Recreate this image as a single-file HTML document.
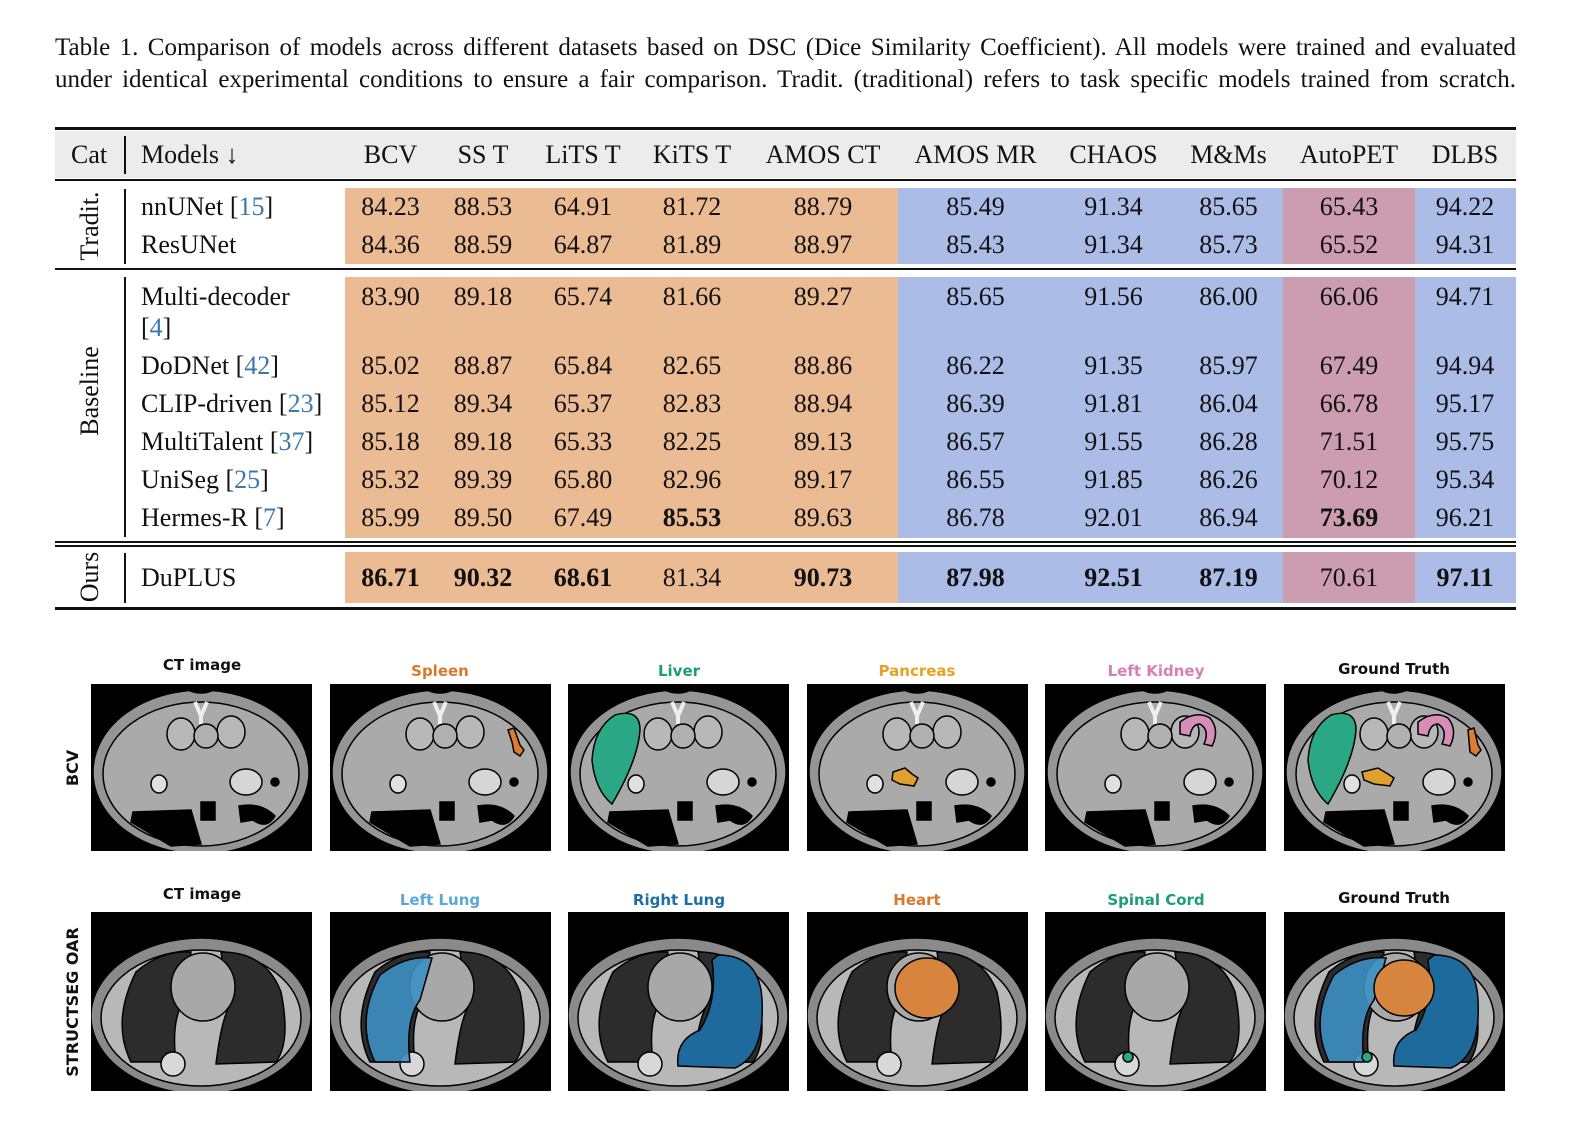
<!DOCTYPE html>
<html><head><meta charset="utf-8"><style>
body{margin:0;width:1594px;height:1148px;background:#fff;position:relative;overflow:hidden;font-family:"Liberation Serif",serif;color:#111}
.a{position:absolute}
.cap{left:55px;width:1461px;font-size:25px;line-height:32px;text-align:justify;text-align-last:justify;white-space:nowrap}
.rule{position:absolute;left:55px;width:1461px;background:#111}
.band{position:absolute}
.row{position:absolute;left:0;height:38px;line-height:38px;font-size:26px;white-space:nowrap}
.row span{position:absolute;text-align:center;top:0}
.m{left:141px;text-align:left!important}
.c1{left:345px;width:91px}.c2{left:436px;width:94px}.c3{left:530px;width:106px}.c4{left:636px;width:112px}.c5{left:748px;width:150px}.c6{left:898px;width:155px}.c7{left:1053px;width:121px}.c8{left:1174px;width:109px}.c9{left:1283px;width:132px}.c10{left:1415px;width:100px}
.ref{color:#3a78b0}
b{font-weight:bold}
.vl{position:absolute;width:1.5px;background:#111;left:124px}
.vt{position:absolute;font-size:26px;transform:rotate(-90deg);transform-origin:center;white-space:nowrap;text-align:center;width:200px}
</style></head><body>
<div class="a cap" style="top:32px">Table 1. Comparison of models across different datasets based on DSC (Dice Similarity Coefficient). All models were trained and evaluated</div>
<div class="a cap" style="top:64px">under identical experimental conditions to ensure a fair comparison. Tradit. (traditional) refers to task specific models trained from scratch.</div>

<div class="band" style="left:55px;top:131px;width:1461px;height:47px;background:#ececec"></div>
<div class="rule" style="top:127px;height:2.5px"></div>
<div class="rule" style="top:179px;height:1.5px"></div>
<div class="rule" style="top:268px;height:1.5px"></div>
<div class="rule" style="top:541px;height:1.5px"></div>
<div class="rule" style="top:545px;height:1.5px"></div>
<div class="rule" style="top:607px;height:2.5px"></div>

<div class="band" style="left:345px;top:188px;width:553px;height:76px;background:#ebbb93"></div>
<div class="band" style="left:898px;top:188px;width:385px;height:76px;background:#abbde6"></div>
<div class="band" style="left:1283px;top:188px;width:132px;height:76px;background:#cc9db1"></div>
<div class="band" style="left:1415px;top:188px;width:101px;height:76px;background:#abbde6"></div>
<div class="band" style="left:345px;top:277px;width:553px;height:261px;background:#ebbb93"></div>
<div class="band" style="left:898px;top:277px;width:385px;height:261px;background:#abbde6"></div>
<div class="band" style="left:1283px;top:277px;width:132px;height:261px;background:#cc9db1"></div>
<div class="band" style="left:1415px;top:277px;width:101px;height:261px;background:#abbde6"></div>
<div class="band" style="left:345px;top:552px;width:553px;height:51px;background:#ebbb93"></div>
<div class="band" style="left:898px;top:552px;width:385px;height:51px;background:#abbde6"></div>
<div class="band" style="left:1283px;top:552px;width:132px;height:51px;background:#cc9db1"></div>
<div class="band" style="left:1415px;top:552px;width:101px;height:51px;background:#abbde6"></div>

<div class="vl" style="top:136px;height:38px"></div>
<div class="vl" style="top:189px;height:75px"></div>
<div class="vl" style="top:277px;height:260px"></div>
<div class="vl" style="top:553px;height:50px"></div>
<div class="vt" style="left:-10px;top:211px">Tradit.</div>
<div class="vt" style="left:-10px;top:376px">Baseline</div>
<div class="vt" style="left:-10px;top:562px">Ours</div>

<div class="row" style="top:136px"><span style="left:71px">Cat</span><span class="m">Models ↓</span><span class="c1">BCV</span><span class="c2">SS T</span><span class="c3">LiTS T</span><span class="c4">KiTS T</span><span class="c5">AMOS CT</span><span class="c6">AMOS MR</span><span class="c7">CHAOS</span><span class="c8">M&amp;Ms</span><span class="c9">AutoPET</span><span class="c10">DLBS</span></div>
<div class="row" style="top:188px"><span class="m">nnUNet [<span class="ref" style="position:static">15</span>]</span><span class="c1">84.23</span><span class="c2">88.53</span><span class="c3">64.91</span><span class="c4">81.72</span><span class="c5">88.79</span><span class="c6">85.49</span><span class="c7">91.34</span><span class="c8">85.65</span><span class="c9">65.43</span><span class="c10">94.22</span></div>
<div class="row" style="top:226px"><span class="m">ResUNet</span><span class="c1">84.36</span><span class="c2">88.59</span><span class="c3">64.87</span><span class="c4">81.89</span><span class="c5">88.97</span><span class="c6">85.43</span><span class="c7">91.34</span><span class="c8">85.73</span><span class="c9">65.52</span><span class="c10">94.31</span></div>
<div class="row" style="top:278px"><span class="m">Multi-decoder</span><span class="c1">83.90</span><span class="c2">89.18</span><span class="c3">65.74</span><span class="c4">81.66</span><span class="c5">89.27</span><span class="c6">85.65</span><span class="c7">91.56</span><span class="c8">86.00</span><span class="c9">66.06</span><span class="c10">94.71</span></div>
<div class="row" style="top:309px"><span class="m">[<span class="ref" style="position:static">4</span>]</span></div>
<div class="row" style="top:347px"><span class="m">DoDNet [<span class="ref" style="position:static">42</span>]</span><span class="c1">85.02</span><span class="c2">88.87</span><span class="c3">65.84</span><span class="c4">82.65</span><span class="c5">88.86</span><span class="c6">86.22</span><span class="c7">91.35</span><span class="c8">85.97</span><span class="c9">67.49</span><span class="c10">94.94</span></div>
<div class="row" style="top:385px"><span class="m">CLIP-driven [<span class="ref" style="position:static">23</span>]</span><span class="c1">85.12</span><span class="c2">89.34</span><span class="c3">65.37</span><span class="c4">82.83</span><span class="c5">88.94</span><span class="c6">86.39</span><span class="c7">91.81</span><span class="c8">86.04</span><span class="c9">66.78</span><span class="c10">95.17</span></div>
<div class="row" style="top:423px"><span class="m">MultiTalent [<span class="ref" style="position:static">37</span>]</span><span class="c1">85.18</span><span class="c2">89.18</span><span class="c3">65.33</span><span class="c4">82.25</span><span class="c5">89.13</span><span class="c6">86.57</span><span class="c7">91.55</span><span class="c8">86.28</span><span class="c9">71.51</span><span class="c10">95.75</span></div>
<div class="row" style="top:461px"><span class="m">UniSeg [<span class="ref" style="position:static">25</span>]</span><span class="c1">85.32</span><span class="c2">89.39</span><span class="c3">65.80</span><span class="c4">82.96</span><span class="c5">89.17</span><span class="c6">86.55</span><span class="c7">91.85</span><span class="c8">86.26</span><span class="c9">70.12</span><span class="c10">95.34</span></div>
<div class="row" style="top:499px"><span class="m">Hermes-R [<span class="ref" style="position:static">7</span>]</span><span class="c1">85.99</span><span class="c2">89.50</span><span class="c3">67.49</span><span class="c4"><b>85.53</b></span><span class="c5">89.63</span><span class="c6">86.78</span><span class="c7">92.01</span><span class="c8">86.94</span><span class="c9"><b>73.69</b></span><span class="c10">96.21</span></div>
<div class="row" style="top:559px"><span class="m">DuPLUS</span><span class="c1"><b>86.71</b></span><span class="c2"><b>90.32</b></span><span class="c3"><b>68.61</b></span><span class="c4">81.34</span><span class="c5"><b>90.73</b></span><span class="c6"><b>87.98</b></span><span class="c7"><b>92.51</b></span><span class="c8"><b>87.19</b></span><span class="c9">70.61</span><span class="c10"><b>97.11</b></span></div>

<svg class="a" style="left:0;top:0" width="1594" height="1148" viewBox="0 0 1594 1148" font-family="DejaVu Sans, sans-serif" font-weight="bold">
<defs>
<symbol id="abd" viewBox="0 0 221 167" width="221" height="167">
<rect width="221" height="167" fill="#000"/>
<ellipse cx="110" cy="88" rx="108" ry="82" fill="#959595"/>
<ellipse cx="110" cy="90" rx="98" ry="72" fill="#aaaaaa"/>
<path d="M88 0 Q110 18 132 0Z" fill="#000"/>
<path d="M104 18 L110 32 L116 18 M110 32 L110 40" stroke="#eee" stroke-width="4" fill="none"/>
<ellipse cx="90" cy="50" rx="14" ry="16" fill="#b8b8b8"/>
<ellipse cx="140" cy="48" rx="14" ry="16" fill="#b8b8b8"/>
<ellipse cx="115" cy="52" rx="12" ry="12" fill="#b0b0b0"/>
<ellipse cx="155" cy="98" rx="16" ry="13" fill="#d6d6d6"/>
<ellipse cx="68" cy="100" rx="8" ry="9" fill="#e0e0e0"/>
<circle cx="184" cy="98" r="4" fill="#000"/>
<path d="M42 128 L100 126 L110 160 L80 162 L40 138Z" fill="#000"/>
<rect x="110" y="118" width="14" height="18" fill="#000"/>
<path d="M148 122 Q170 118 184 132 Q176 146 162 136 L150 138Z" fill="#000"/>
</symbol>
<symbol id="tho" viewBox="0 0 221 179" width="221" height="179">
<rect width="221" height="179" fill="#000"/>
<ellipse cx="110" cy="104" rx="110" ry="78" fill="#8a8a8a"/>
<ellipse cx="110" cy="106" rx="100" ry="68" fill="#b8b8b8"/>
<path d="M40 150 Q20 110 45 60 Q70 38 100 40 L92 90 Q80 110 85 150Z" fill="#2c2c2c"/>
<path d="M130 40 Q175 40 190 80 Q200 130 185 150 L125 152 Q130 110 138 95Z" fill="#2c2c2c"/>
<ellipse cx="112" cy="75" rx="32" ry="34" fill="#a8a8a8"/>
<ellipse cx="82" cy="152" rx="12" ry="12" fill="#d8d8d8"/>
</symbol>
</defs>
<g font-size="15" text-anchor="middle">
<text x="202" y="670" fill="#111">CT image</text>
<text x="440" y="676" fill="#d9782a">Spleen</text>
<text x="679" y="676" fill="#1a9e77">Liver</text>
<text x="917" y="676" fill="#e5a224">Pancreas</text>
<text x="1156" y="676" fill="#d67fb4">Left Kidney</text>
<text x="1394" y="674" fill="#111">Ground Truth</text>
<text x="202" y="899" fill="#111">CT image</text>
<text x="440" y="905" fill="#56a9d8">Left Lung</text>
<text x="679" y="905" fill="#1f6ea3">Right Lung</text>
<text x="917" y="905" fill="#d9772a">Heart</text>
<text x="1156" y="905" fill="#1a9e77">Spinal Cord</text>
<text x="1394" y="903" fill="#111">Ground Truth</text>
<text transform="translate(78,768) rotate(-90)" font-size="16" fill="#111">BCV</text>
<text transform="translate(78,1002) rotate(-90)" font-size="16" fill="#111">STRUCTSEG OAR</text>
</g>
<g stroke="#000" stroke-width="1.5">
<use href="#abd" x="91" y="684"/>
<use href="#abd" x="330" y="684"/>
<path d="M508 730 L514 728 L520 745 L524 750 L520 756 L514 752 L512 742Z" fill="#dd7c2e" stroke="#000"/>
<use href="#abd" x="568" y="684"/>
<path d="M615 715 Q640 708 640 730 Q638 760 612 804 Q595 790 592 760 Q594 728 615 715Z" fill="#2aa784"/>
<use href="#abd" x="807" y="684"/>
<path d="M893 772 L905 768 L912 774 L918 778 L914 786 L900 784 L892 780Z" fill="#e0a030"/>
<use href="#abd" x="1045" y="684"/>
<path d="M1180 722 Q1196 710 1210 718 Q1220 730 1212 746 L1204 744 Q1210 730 1200 724 Q1192 724 1190 736 L1180 734Z" fill="#d88cb8"/>
<use href="#abd" x="1284" y="684"/>
<path d="M1331 715 Q1356 708 1356 730 Q1354 760 1328 804 Q1311 790 1308 760 Q1310 728 1331 715Z" fill="#2aa784"/>
<path d="M1418 722 Q1434 710 1448 718 Q1458 730 1450 746 L1442 744 Q1448 730 1438 724 Q1430 724 1428 736 L1418 734Z" fill="#d88cb8"/>
<path d="M1468 730 L1474 728 L1478 745 L1481 750 L1476 756 L1470 752Z" fill="#dd7c2e"/>
<path d="M1362 772 L1378 768 L1388 774 L1394 778 L1390 786 L1374 784 L1364 780Z" fill="#e0a030"/>

<use href="#tho" x="91" y="912"/>
<use href="#tho" x="330" y="912"/>
<path d="M375 1062 Q355 1020 380 975 Q405 955 432 958 L420 1000 Q405 1020 410 1062Z" fill="#3d8fc4" fill-opacity="0.9"/>
<use href="#tho" x="568" y="912"/>
<path d="M718 955 Q760 955 762 1000 Q765 1055 735 1068 L678 1066 Q675 1040 700 1030 Q718 1000 712 960Z" fill="#1f6a9c"/>
<use href="#tho" x="807" y="912"/>
<ellipse cx="927" cy="988" rx="32" ry="30" fill="#d6843e"/>
<use href="#tho" x="1045" y="912"/>
<circle cx="1128" cy="1057" r="5" fill="#2aa784"/>
<use href="#tho" x="1284" y="912"/>
<path d="M1329 1062 Q1309 1020 1334 975 Q1359 955 1386 958 L1374 1000 Q1359 1020 1364 1062Z" fill="#3d8fc4" fill-opacity="0.9"/>
<path d="M1434 955 Q1476 955 1478 1000 Q1481 1055 1451 1068 L1394 1066 Q1391 1040 1416 1030 Q1434 1000 1428 960Z" fill="#1f6a9c"/>
<ellipse cx="1404" cy="988" rx="30" ry="28" fill="#d6843e"/>
<circle cx="1367" cy="1057" r="5" fill="#2aa784"/>
</g>
</svg>
</body></html>
